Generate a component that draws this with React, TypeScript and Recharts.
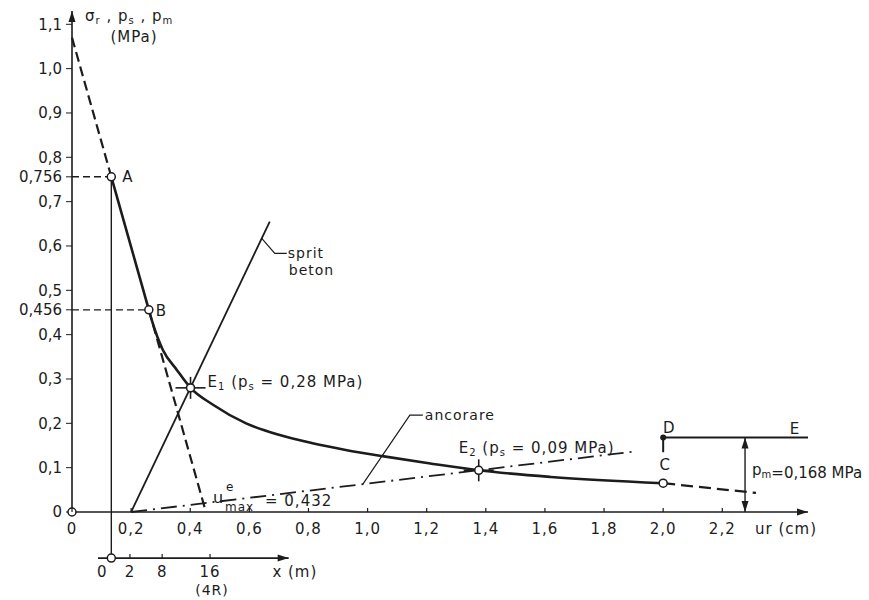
import React from 'react'
import { ComposedChart, Line, Scatter, XAxis, YAxis, ReferenceLine, ReferenceDot } from 'recharts'

const INK = '#1c1c1c'
const FONT = '"DejaVu Sans", sans-serif'

// ur (cm) axis and stress axis (MPa)
const uTicks = [0, 0.2, 0.4, 0.6, 0.8, 1.0, 1.2, 1.4, 1.6, 1.8, 2.0, 2.2]
const pTicks = [0, 0.1, 0.2, 0.3, 0.4, 0.456, 0.5, 0.6, 0.7, 0.756, 0.8, 0.9, 1.0, 1.1]

// x (m) scale under the chart, placed at these ur values
const xmLabels = ['0', '2', '8', '16']
const xmAt = [0.133, 0.196, 0.305, 0.467]
const XM_ROW = -0.104

// characteristic points
const O = { u: 0, p: 0 }
const A = { u: 0.133, p: 0.756 }
const B = { u: 0.26, p: 0.456 }
const E1 = { u: 0.401, p: 0.28 }
const E2 = { u: 1.376, p: 0.094 }
const C = { u: 2.0, p: 0.065 }
const D = { u: 2.0, p: 0.168 }

// curba caracteristica A - B - E1 - E2 - C
const curveU = [0.133, 0.26, 0.272, 0.307, 0.354, 0.401, 0.477, 0.589, 0.7, 0.814, 0.926, 1.05, 1.207, 1.376, 1.62, 2.0]
const curveP = [0.756, 0.456, 0.428, 0.366, 0.321, 0.28, 0.242, 0.2, 0.174, 0.155, 0.14, 0.126, 0.11, 0.094, 0.079, 0.065]

// elastic straight line, dashed outside A-B
const elasticU = [0, 0.133, 0.26, 0.453]
const elasticP = [1.07, 0.756, 0.456, 0]

// supports
const spritU = [0.2, 0.669]
const spritP = [0, 0.655]
const ancorareU = [0.2, 1.91]
const ancorareP = [0, 0.137]
const tailU = [2.0, 2.314]
const tailP = [0.065, 0.043]
const pmU = [2.0, 2.0, 2.49]
const pmP = [0.135, 0.168, 0.168]
const PM_AT = 2.277

const zip = (us: number[], ps: number[]) => us.map((u, i) => ({ u, p: ps[i] }))

const curve = zip(curveU, curveP)
const elasticTop = zip(elasticU.slice(0, 2), elasticP.slice(0, 2))
const elasticBottom = zip(elasticU.slice(2), elasticP.slice(2))
const sprit = zip(spritU, spritP)
const ancorare = zip(ancorareU, ancorareP)
const tail = zip(tailU, tailP)
const pmLine = zip(pmU, pmP)

const comma = (v: number) =>
  v === 0 ? '0' : (Math.abs(v * 10 - Math.round(v * 10)) < 1e-9 ? v.toFixed(1) : v.toFixed(3)).replace('.', ',')

const txt = { fill: INK, fontFamily: FONT, letterSpacing: 1 }

const UTick = (props: any) => {
  const { x, y, payload } = props
  return (
    <g>
      <line x1={x} y1={y} x2={x} y2={y - 4} stroke={INK} strokeWidth={1.2} />
      <text x={x} y={y + 22} textAnchor="middle" fontSize={15} {...txt}>{comma(payload.value)}</text>
    </g>
  )
}

const openDot = (props: any) => (
  <circle cx={props.cx} cy={props.cy} r={4} fill="#fff" stroke={INK} strokeWidth={1.5} />
)

const crossDot = (props: any) => (
  <g stroke={INK} strokeWidth={1.6}>
    <line x1={props.cx - 15} y1={props.cy} x2={props.cx + 15} y2={props.cy} />
    <line x1={props.cx} y1={props.cy - 11} x2={props.cx} y2={props.cy + 11} />
    <circle cx={props.cx} cy={props.cy} r={4} fill="#fff" />
  </g>
)

const fullDot = (props: any) => <circle cx={props.cx} cy={props.cy} r={3} fill={INK} />

const arrow = (dir: 'up' | 'down' | 'right') => (props: any) => {
  const { cx, cy } = props
  const l = 11
  const h = 3.5
  const pts =
    dir === 'up'
      ? `${cx},${cy} ${cx - h},${cy + l} ${cx + h},${cy + l}`
      : dir === 'down'
        ? `${cx},${cy} ${cx - h},${cy - l} ${cx + h},${cy - l}`
        : `${cx},${cy} ${cx - l},${cy - h} ${cx - l},${cy + h}`
  return <polygon points={pts} fill={INK} />
}

const note = (content: React.ReactNode, dx: number, dy: number, anchor = 'start', size = 15, spacing = 1) =>
  (props: any) => (
    <text x={props.cx + dx} y={props.cy + dy} textAnchor={anchor} fontSize={size} {...txt} letterSpacing={spacing}>
      {content}
    </text>
  )

const sub = (s: string) => (
  <tspan fontSize={10} dy={3}>{s}</tspan>
)
const back = <tspan dy={-3}> </tspan>
const backTight = <tspan dy={-3}></tspan>

const spritNote = (props: any) => {
  const { cx, cy } = props
  return (
    <g>
      <polyline points={`${cx},${cy} ${cx + 13},${cy + 15} ${cx + 25},${cy + 15}`} fill="none" stroke={INK} strokeWidth={1.2} />
      <text x={cx + 26} y={cy + 20} fontSize={14} {...txt}>sprit</text>
      <text x={cx + 27} y={cy + 37} fontSize={14} {...txt}>beton</text>
    </g>
  )
}

const ancorareNote = (props: any) => {
  const { cx, cy } = props
  return (
    <g>
      <polyline points={`${cx},${cy} ${cx + 47},${cy - 69} ${cx + 60},${cy - 69}`} fill="none" stroke={INK} strokeWidth={1.2} />
      <text x={cx + 62} y={cy - 64} fontSize={14} {...txt}>ancorare</text>
    </g>
  )
}

const umaxNote = (props: any) => {
  const { cx, cy } = props
  return (
    <g>
      <text x={cx} y={cy - 9} fontSize={16} {...txt}>u</text>
      <text x={cx + 13} y={cy - 21} fontSize={12} {...txt}>e</text>
      <text x={cx + 12} y={cy - 1} fontSize={12} {...txt}>max</text>
      <text x={cx + 52} y={cy - 6} fontSize={15} {...txt}>= 0,432</text>
    </g>
  )
}

const xmTick = (label: string, first: boolean) => (props: any) => {
  const { cx, cy } = props
  return (
    <g>
      {!first && <line x1={cx} y1={cy} x2={cx} y2={cy - 4} stroke={INK} strokeWidth={1.2} />}
      <text x={first ? cx - 9 : cx} y={cy + 19} textAnchor="middle" fontSize={15} {...txt}>{label}</text>
      {label === '16' && <text x={cx + 2} y={cy + 37} textAnchor="middle" fontSize={14} {...txt}>(4R)</text>}
    </g>
  )
}

const lineBase = { dataKey: 'p', stroke: INK, dot: false, isAnimationActive: false, type: 'linear' as const }

export default function App() {
  return (
    <div style={{ position: 'absolute', left: 0, top: 0, width: 869, height: 600, background: '#fff' }}>
      <ComposedChart width={869} height={600} margin={{ top: 11, right: 61, bottom: 58, left: 12 }}>
        <XAxis
          dataKey="u"
          type="number"
          domain={[0, 2.49]}
          ticks={uTicks}
          interval={0}
          tickSize={0}
          tickMargin={0}
          tickLine={false}
          height={30}
          axisLine={{ stroke: INK, strokeWidth: 1.6 }}
          tick={<UTick />}
        />
        <YAxis
          dataKey="p"
          type="number"
          domain={[0, 1.13]}
          ticks={pTicks}
          interval={0}
          width={60}
          tickSize={6}
          tickMargin={4}
          tickFormatter={comma}
          axisLine={{ stroke: INK, strokeWidth: 1.6 }}
          tickLine={{ stroke: INK }}
          tick={{ fill: INK, fontSize: 15, fontFamily: FONT }}
        />

        {/* dashed guides to A and B */}
        <ReferenceLine segment={[{ x: 0, y: A.p }, { x: A.u, y: A.p }]} stroke={INK} strokeWidth={1.4} strokeDasharray="7 4" />
        <ReferenceLine segment={[{ x: 0, y: B.p }, { x: B.u, y: B.p }]} stroke={INK} strokeWidth={1.4} strokeDasharray="7 4" />

        {/* x (m) scale */}
        <ReferenceLine segment={[{ x: A.u, y: A.p }, { x: A.u, y: XM_ROW }]} stroke={INK} strokeWidth={1.4} ifOverflow="visible" />
        <ReferenceLine segment={[{ x: 0.088, y: XM_ROW }, { x: 0.733, y: XM_ROW }]} stroke={INK} strokeWidth={1.6} ifOverflow="visible" />
        <ReferenceDot x={0.733} y={XM_ROW} ifOverflow="visible" shape={arrow('right')} />
        {xmLabels.map((l, i) => (
          <ReferenceDot key={l} x={xmAt[i]} y={XM_ROW} ifOverflow="visible" shape={xmTick(l, i === 0)} />
        ))}
        <ReferenceDot x={A.u} y={XM_ROW} ifOverflow="visible" shape={openDot} />
        <ReferenceDot x={0.754} y={XM_ROW} ifOverflow="visible" shape={note('x (m)', 0, 19, 'middle')} />

        {/* pm double arrow */}
        <ReferenceLine segment={[{ x: PM_AT, y: 0 }, { x: PM_AT, y: D.p }]} stroke={INK} strokeWidth={1.4} />
        <ReferenceDot x={PM_AT} y={D.p} shape={arrow('up')} />
        <ReferenceDot x={PM_AT} y={0} shape={arrow('down')} />

        {/* axis arrows */}
        <ReferenceDot x={0} y={1.13} shape={arrow('up')} />
        <ReferenceDot x={2.49} y={0} shape={arrow('right')} />

        <Line {...lineBase} data={elasticTop} strokeWidth={2.2} strokeDasharray="10 5" />
        <Line {...lineBase} data={elasticBottom} strokeWidth={2.2} strokeDasharray="10 5" />
        <Line {...lineBase} data={curve} strokeWidth={2.6} type="monotone" />
        <Line {...lineBase} data={tail} strokeWidth={2.2} strokeDasharray="12 6" />
        <Line {...lineBase} data={sprit} strokeWidth={1.8} />
        <Line {...lineBase} data={ancorare} strokeWidth={1.8} strokeDasharray="16 6 2 6" />
        <Line {...lineBase} data={pmLine} strokeWidth={2} />

        <Scatter data={[O, A, B, C]} dataKey="p" shape={openDot} isAnimationActive={false} />
        <Scatter data={[E1, E2]} dataKey="p" shape={crossDot} isAnimationActive={false} />
        <Scatter data={[D]} dataKey="p" shape={fullDot} isAnimationActive={false} />

        {/* texts */}
        <ReferenceDot x={0} y={1.13} shape={note(<>σ{sub('r')}{back}, p{sub('s')}{back}, p{sub('m')}</>, 13, 10)} />
        <ReferenceDot x={0} y={1.13} shape={note('(MPa)', 62, 31, 'middle')} />
        <ReferenceDot x={A.u} y={A.p} shape={note('A', 11, 5)} />
        <ReferenceDot x={B.u} y={B.p} shape={note('B', 7, 6)} />
        <ReferenceDot x={E1.u} y={E1.p} shape={note(<>E{sub('1')}{back}(p{sub('s')}{back}= 0,28 MPa)</>, 17, -1)} />
        <ReferenceDot x={E2.u} y={E2.p} shape={note(<>E{sub('2')}{back}(p{sub('s')}{back}= 0,09 MPa)</>, -20, -17)} />
        <ReferenceDot x={C.u} y={C.p} shape={note('C', 2, -13, 'middle')} />
        <ReferenceDot x={D.u} y={D.p} shape={note('D', 6, -5, 'middle')} />
        <ReferenceDot x={2.446} y={D.p} shape={note('E', 0, -4, 'middle')} />
        <ReferenceDot x={PM_AT} y={0.095} shape={note(<>p{sub('m')}{backTight}=0,168 MPa</>, 7, 5, 'start', 15, 0)} />
        <ReferenceDot x={2.49} y={0} shape={note('ur (cm)', -22, 22, 'middle')} />
        <ReferenceDot x={0.642} y={0.617} shape={spritNote} />
        <ReferenceDot x={0.984} y={0.0628} shape={ancorareNote} />
        <ReferenceDot x={0.477} y={0} shape={umaxNote} />
      </ComposedChart>
    </div>
  )
}
